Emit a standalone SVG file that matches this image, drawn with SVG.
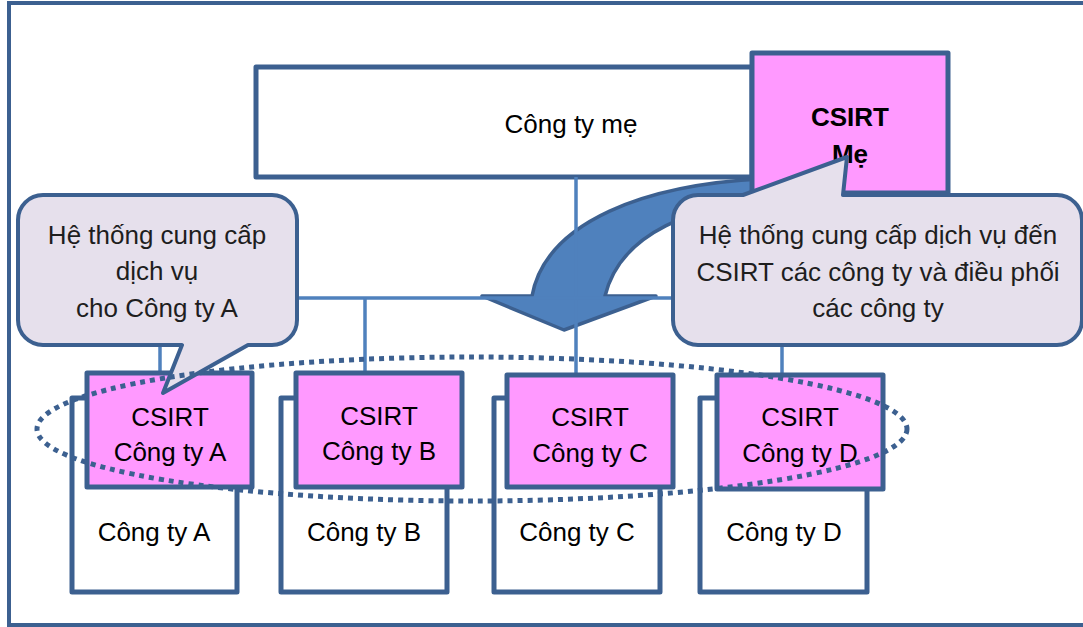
<svg xmlns="http://www.w3.org/2000/svg" width="1083" height="627" viewBox="0 0 1083 627">
<style>
.t{font-family:"Liberation Sans",Arial,sans-serif;font-size:26px;fill:#000;text-anchor:middle}
.ct{fill:#1e1e1e}
.box{fill:#fff;stroke:#3C6090;stroke-width:5;stroke-linejoin:round}
.pink{fill:#FF99FF;stroke:#3C6090;stroke-width:5;stroke-linejoin:round}
.conn{stroke:#4F81BD;stroke-width:3.5;fill:none}
.call{fill:#E6E0EC;stroke:#3C6090;stroke-width:4;stroke-linejoin:round}
</style>
<rect x="0" y="0" width="1083" height="627" fill="#fff"/>
<rect id="frame" x="9" y="3" width="1100" height="622" fill="none" stroke="#3C6090" stroke-width="4"/>
<g id="parent">
<rect class="box" x="256" y="67" width="496" height="110" stroke-width="4"/>
<text class="t" x="571" y="133">Công ty mẹ</text>
</g>
<g id="bigArrow">
<path d="M532,296 C545,225 640,180 790,178 L790,200 C690,202 620,235 605,296 L656,296 L564,330 L482,296 Z" fill="#4F81BD" stroke="#3C6090" stroke-width="3.5" stroke-linejoin="round"/>
</g>
<g id="connectors">
<line class="conn" x1="576" y1="177" x2="576" y2="375"/>
<line class="conn" x1="160" y1="298" x2="782" y2="298"/>
<line class="conn" x1="160" y1="298" x2="160" y2="373"/>
<line class="conn" x1="365" y1="298" x2="365" y2="373"/>
<line class="conn" x1="782" y1="298" x2="782" y2="375"/>
</g>
<g id="csirtMe">
<rect class="pink" x="752" y="53" width="196" height="140"/>
<text class="t" x="850" y="126" font-weight="bold">CSIRT</text>
<text class="t" x="850" y="163" font-weight="bold">Mẹ</text>
</g>
<g id="companyA">
<rect class="box" x="72" y="398" width="165" height="194"/>
<text class="t" x="154" y="541">Công ty A</text>
<rect class="pink" x="87" y="373" width="165" height="114"/>
<text class="t" x="170" y="426">CSIRT</text>
<text class="t" x="170" y="461">Công ty A</text>
</g>
<g id="companyB">
<rect class="box" x="281" y="398" width="166" height="194"/>
<text class="t" x="364" y="541">Công ty B</text>
<rect class="pink" x="296" y="373" width="166" height="114"/>
<text class="t" x="379" y="425">CSIRT</text>
<text class="t" x="379" y="460">Công ty B</text>
</g>
<g id="companyC">
<rect class="box" x="494" y="398" width="166" height="194"/>
<text class="t" x="577" y="541">Công ty C</text>
<rect class="pink" x="507" y="375" width="166" height="112"/>
<text class="t" x="590" y="426">CSIRT</text>
<text class="t" x="590" y="462">Công ty C</text>
</g>
<g id="companyD">
<rect class="box" x="700" y="398" width="167" height="194"/>
<text class="t" x="784" y="541">Công ty D</text>
<rect class="pink" x="717" y="375" width="166" height="114"/>
<text class="t" x="800" y="426">CSIRT</text>
<text class="t" x="800" y="462">Công ty D</text>
</g>
<g id="calloutA">
<path class="call" d="M43,195 L272,195 A25,25 0 0 1 297,220 L297,320 A25,25 0 0 1 272,345 L248,345 L163,393 L182,345 L43,345 A25,25 0 0 1 18,320 L18,220 A25,25 0 0 1 43,195 Z"/>
<text class="t ct" x="157" y="244">Hệ thống cung cấp</text>
<text class="t ct" x="157" y="280">dịch vụ</text>
<text class="t ct" x="157" y="317">cho Công ty A</text>
</g>
<g id="calloutMe">
<path class="call" d="M698,195 L743,195 L847,157 L843,195 L1057,195 A25,25 0 0 1 1082,220 L1082,320 A25,25 0 0 1 1057,345 L698,345 A25,25 0 0 1 673,320 L673,220 A25,25 0 0 1 698,195 Z"/>
<text class="t ct" x="878" y="244">Hệ thống cung cấp dịch vụ đến</text>
<text class="t ct" x="878" y="281">CSIRT các công ty và điều phối</text>
<text class="t ct" x="878" y="317">các công ty</text>
</g>
<g id="group">
<ellipse cx="472" cy="429" rx="435" ry="72" fill="none" stroke="#3C6090" stroke-width="5" stroke-dasharray="5 5"/>
</g>
</svg>
